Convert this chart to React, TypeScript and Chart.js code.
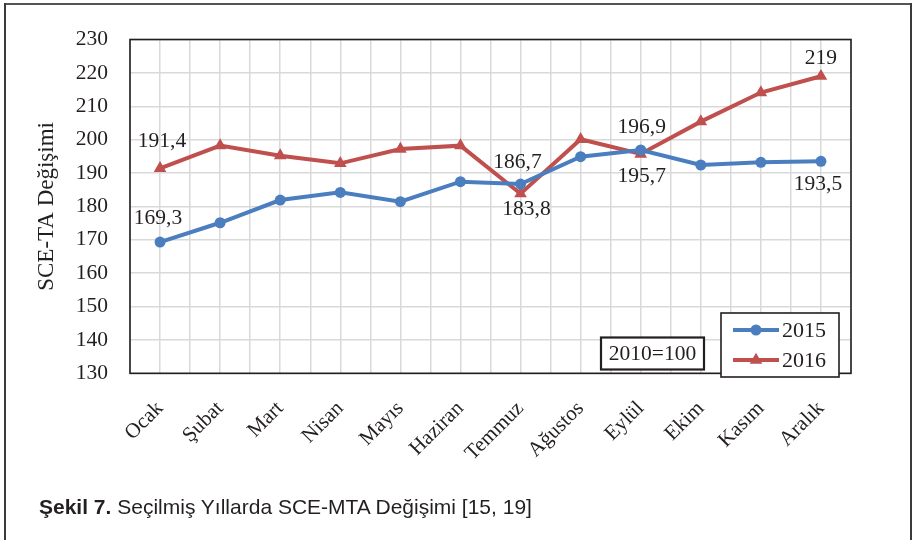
import React, { useEffect, useRef } from "react";
import { Chart, registerables } from "chart.js";

Chart.register(...registerables);

const months = ["Ocak", "Şubat", "Mart", "Nisan", "Mayıs", "Haziran", "Temmuz", "Ağustos", "Eylül", "Ekim", "Kasım", "Aralık"];
const series2015 = [169.3, 175.1, 181.9, 184.2, 181.4, 187.4, 186.7, 194.9, 196.9, 192.4, 193.2, 193.5];
const series2016 = [191.4, 198.2, 195.2, 192.9, 197.2, 198.2, 183.8, 200.1, 195.7, 205.4, 214.1, 219];
const seriesNames = ["2015", "2016"];
const yTicks = { min: 130, max: 230, step: 10 };
const axisTitle = "SCE-TA Değişimi";
const baseNote = "2010=100";

// which points carry value labels (series index, month index) and where the text goes
const labelPlacement = [
  { s: 0, i: 0, dx: -2, dy: -24 },
  { s: 1, i: 0, dx: 2, dy: -27 },
  { s: 0, i: 6, dx: -3, dy: -22 },
  { s: 1, i: 6, dx: 6, dy: 16 },
  { s: 0, i: 8, dx: 1, dy: -23 },
  { s: 1, i: 8, dx: 1, dy: 22 },
  { s: 0, i: 11, dx: -3, dy: 23 },
  { s: 1, i: 11, dx: 0, dy: -18 },
];

const BLUE = "#4a7ebf";
const RED = "#c0504d";
const SERIF = "'Liberation Serif', 'Times New Roman', serif";
const TEXT = "#231f20";

const fmt = (v: number) => String(v).replace(".", ",");

export default function App() {
  const ref = useRef<HTMLCanvasElement | null>(null);

  useEffect(() => {
    const canvas = ref.current;
    if (!canvas) return;
    const allSeries = [series2015, series2016];

    const annotate = {
      id: "annotate",
      beforeDatasetsDraw(chart: any) {
        const { ctx, chartArea: a } = chart;
        ctx.save();
        ctx.strokeStyle = "#231f20";
        ctx.lineWidth = 1.6;
        ctx.strokeRect(a.left, a.top, a.right - a.left, a.bottom - a.top);
        // axis title
        ctx.fillStyle = TEXT;
        ctx.font = `23px ${SERIF}`;
        ctx.textAlign = "center";
        ctx.textBaseline = "middle";
        ctx.translate(47, (a.top + a.bottom) / 2);
        ctx.rotate(-Math.PI / 2);
        ctx.fillText(axisTitle, 0, 0);
        ctx.restore();
      },
      afterDatasetsDraw(chart: any) {
        const { ctx } = chart;
        const xs = chart.scales.x;
        const ys = chart.scales.y;
        ctx.save();
        ctx.fillStyle = TEXT;
        ctx.font = `21.5px ${SERIF}`;
        ctx.textAlign = "center";
        ctx.textBaseline = "middle";
        for (const p of labelPlacement) {
          const v = allSeries[p.s][p.i];
          ctx.fillText(fmt(v), xs.getPixelForValue(p.i) + p.dx, ys.getPixelForValue(v) + p.dy);
        }
        // base note box
        const bx = 601, by = 337.5, bw = 103, bh = 32;
        ctx.fillStyle = "#fff";
        ctx.fillRect(bx, by, bw, bh);
        ctx.strokeStyle = "#231f20";
        ctx.lineWidth = 2.2;
        ctx.strokeRect(bx, by, bw, bh);
        ctx.fillStyle = TEXT;
        ctx.font = `21.5px ${SERIF}`;
        ctx.fillText(baseNote, bx + bw / 2, by + bh / 2 + 1);
        // legend
        const lx = 721, ly = 313, lw = 118, lh = 64;
        ctx.fillStyle = "#fff";
        ctx.fillRect(lx, ly, lw, lh);
        ctx.lineWidth = 1.6;
        ctx.strokeRect(lx, ly, lw, lh);
        const colors = [BLUE, RED];
        seriesNames.forEach((name, k) => {
          const cy = ly + 17 + k * 30;
          ctx.strokeStyle = colors[k];
          ctx.lineWidth = 4;
          ctx.beginPath();
          ctx.moveTo(733, cy);
          ctx.lineTo(779, cy);
          ctx.stroke();
          ctx.fillStyle = colors[k];
          ctx.beginPath();
          if (k === 0) {
            ctx.arc(756, cy, 5.5, 0, Math.PI * 2);
          } else {
            const r = 7.3;
            ctx.moveTo(756, cy - r);
            ctx.lineTo(756 + r * Math.sin(Math.PI / 3 * 2), cy + r / 2);
            ctx.lineTo(756 - r * Math.sin(Math.PI / 3 * 2), cy + r / 2);
            ctx.closePath();
          }
          ctx.fill();
          ctx.fillStyle = TEXT;
          ctx.textAlign = "left";
          ctx.font = `22px ${SERIF}`;
          ctx.fillText(name, 782, cy + 1);
        });
        ctx.restore();
      },
    };

    const chart = new Chart(canvas, {
      type: "line",
      data: {
        datasets: [
          {
            label: seriesNames[0],
            data: series2015.map((v, i) => ({ x: i, y: v })),
            borderColor: BLUE,
            backgroundColor: BLUE,
            borderWidth: 4,
            pointStyle: "circle",
            pointRadius: 5.5,
            pointBorderWidth: 0,
            tension: 0,
          },
          {
            label: seriesNames[1],
            data: series2016.map((v, i) => ({ x: i, y: v })),
            borderColor: RED,
            backgroundColor: RED,
            borderWidth: 4,
            pointStyle: "triangle",
            pointRadius: 7.3,
            pointBorderWidth: 0,
            tension: 0,
          },
        ],
      },
      options: {
        animation: false,
        responsive: false,
        devicePixelRatio: 1,
        layout: { padding: { left: 0, top: 39.5, right: 63, bottom: 0 } },
        plugins: { legend: { display: false }, tooltip: { enabled: false } },
        scales: {
          x: {
            type: "linear",
            min: -0.5,
            max: 11.5,
            afterFit: (s: any) => { s.height = 540 - 373.3; },
            afterBuildTicks: (s: any) => {
              const t = [];
              for (let k = -1; k <= 23; k++) t.push({ value: k / 2 });
              s.ticks = t;
            },
            grid: { color: "#d9d9d9", lineWidth: 1.5, drawTicks: false },
            border: { display: false },
            ticks: {
              autoSkip: false,
              maxRotation: 45,
              minRotation: 45,
              padding: 23,
              color: TEXT,
              font: { family: SERIF, size: 21 },
              callback: (v: any) => (Number.isInteger(v) ? months[v] : ""),
            },
          },
          y: {
            min: yTicks.min,
            max: yTicks.max,
            afterFit: (s: any) => { s.width = 130; },
            grid: { color: "#d9d9d9", lineWidth: 1.5, drawTicks: false },
            border: { display: false },
            ticks: {
              stepSize: yTicks.step,
              padding: 22,
              color: TEXT,
              font: { family: SERIF, size: 21.5 },
            },
          },
        },
      },
      plugins: [annotate],
    } as any);
    return () => chart.destroy();
  }, []);

  const line = (style: React.CSSProperties) => (
    <div style={{ position: "absolute", background: "#3a3a3a", ...style }} />
  );

  return (
    <div style={{ position: "fixed", left: 0, top: 0, width: 914, height: 540, background: "#fff", overflow: "hidden" }}>
      <canvas ref={ref} width={914} height={540} style={{ position: "absolute", left: 0, top: 0, width: 914, height: 540 }} />
      {line({ left: 4, top: 3, width: 908, height: 2, background: "#555" })}
      {line({ left: 4, top: 3, width: 2, height: 537 })}
      {line({ left: 910, top: 3, width: 2, height: 537 })}
      <div
        style={{
          position: "absolute",
          left: 39,
          top: 494,
          fontFamily: "'Liberation Sans', Arial, sans-serif",
          fontSize: 21,
          color: "#231f20",
          whiteSpace: "nowrap",
          lineHeight: "26px",
        }}
      >
        <b>Şekil 7.</b> Seçilmiş Yıllarda SCE-MTA Değişimi [15, 19]
      </div>
    </div>
  );
}
